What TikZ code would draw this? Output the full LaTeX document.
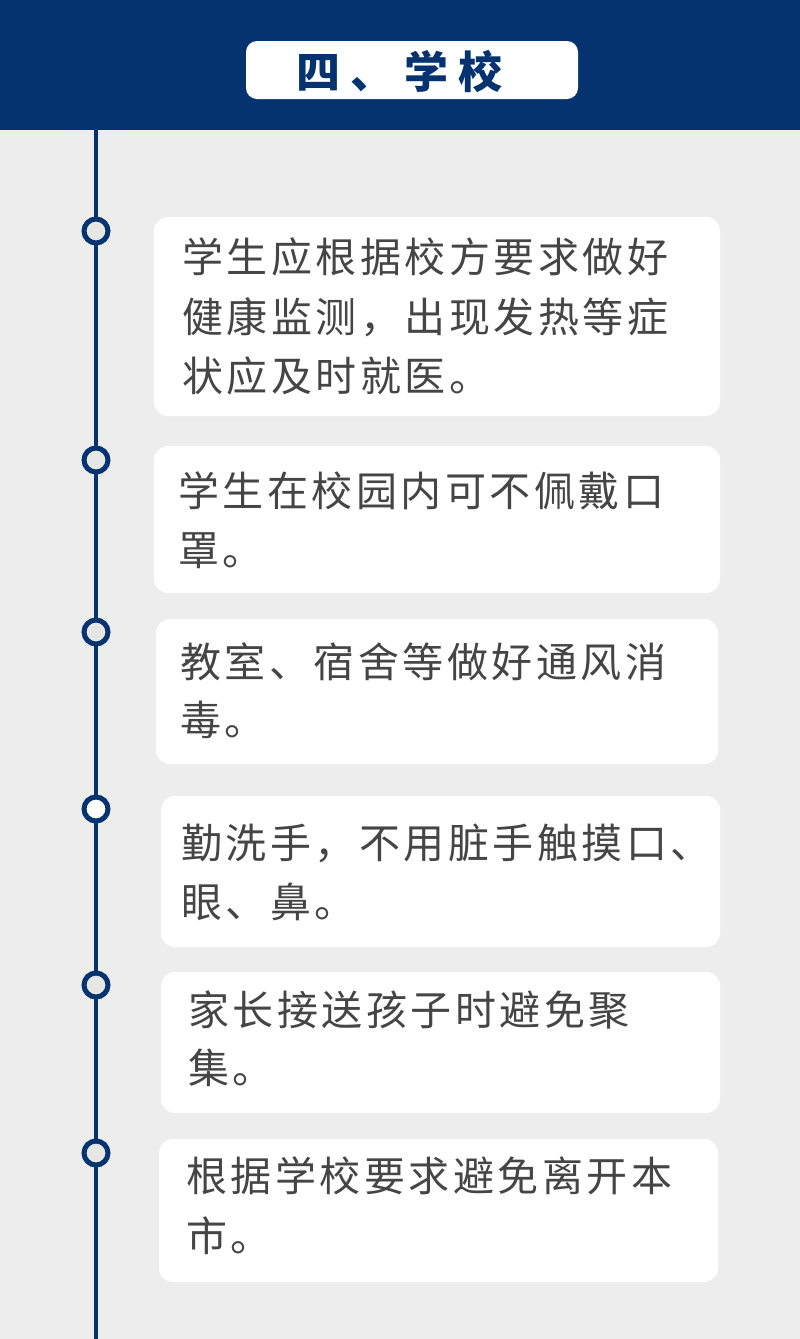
\documentclass[tikz,border=0pt]{standalone}
\usepackage{fontspec}
\newfontfamily\cjk[LetterSpace=8.5]{Noto Sans CJK SC}
\newfontfamily\cjktitle[LetterSpace=23]{Noto Sans CJK SC}
\definecolor{navy}{HTML}{04336F}
\definecolor{bg}{HTML}{EDEDED}
\definecolor{txt}{HTML}{454545}
\definecolor{dotfill}{HTML}{E7E7E3}
\begin{document}
\begin{tikzpicture}[x=1pt,y=-1pt,
  card/.style={fill=white,rounded corners=14pt},
  line/.style={anchor=base west,inner sep=0pt,text=txt,font=\cjk\fontsize{41}{49}\selectfont},
  dot/.style={circle,draw=navy,line width=5pt,fill=dotfill,minimum size=24pt,inner sep=0pt},
  spine/.style={draw=navy,line width=4pt}]
\useasboundingbox (0,0) rectangle (800,1339);
\fill[bg] (0,0) rectangle (800,1339);
\fill[navy] (0,0) rectangle (800,130);
\fill[white,rounded corners=11pt] (246,41) rectangle (578,99);
\node[anchor=base west,inner sep=0pt,text=navy,font=\cjktitle\bfseries\fontsize{44}{50}\selectfont] (title) at (296,88) {四、学校};
% spine
\coordinate (top) at (96,130);
\coordinate (bot) at (96,1339);
\draw[spine] (top) -- (bot);
% cards
\fill[card] (154,217) rectangle (720,416);
\fill[card] (154,446) rectangle (720,593);
\fill[card] (156,619) rectangle (718,764);
\fill[card] (161,796) rectangle (720,947);
\fill[card] (161,972) rectangle (720,1113);
\fill[card] (159,1139) rectangle (718,1282);
% dots
\node[dot] (d1) at (96,231) {};
\node[dot] (d2) at (96,460) {};
\node[dot] (d3) at (96,632) {};
\node[dot,fill=white] (d4) at (96,809) {};
\node[dot] (d5) at (96,985) {};
\node[dot] (d6) at (96,1153) {};
% texts
\node[line] (t1a) at (182,272.5) {学生应根据校方要求做好};
\node[line] (t1b) at (182,332.5) {健康监测，出现发热等症};
\node[line] (t1c) at (182,391.5) {状应及时就医。};
\node[line] (t2a) at (178,506) {学生在校园内可不佩戴口};
\node[line] (t2b) at (178,565.5) {罩。};
\node[line] (t3a) at (180,677.5) {教室、宿舍等做好通风消};
\node[line] (t3b) at (180,735.5) {毒。};
\node[line] (t4a) at (181,858.5) {勤洗手，不用脏手触摸口、};
\node[line] (t4b) at (181,917.5) {眼、鼻。};
\node[line] (t5a) at (188,1025.5) {家长接送孩子时避免聚};
\node[line] (t5b) at (188,1083.5) {集。};
\node[line] (t6a) at (186,1191.5) {根据学校要求避免离开本};
\node[line] (t6b) at (186,1251.5) {市。};
\end{tikzpicture}
\end{document}
